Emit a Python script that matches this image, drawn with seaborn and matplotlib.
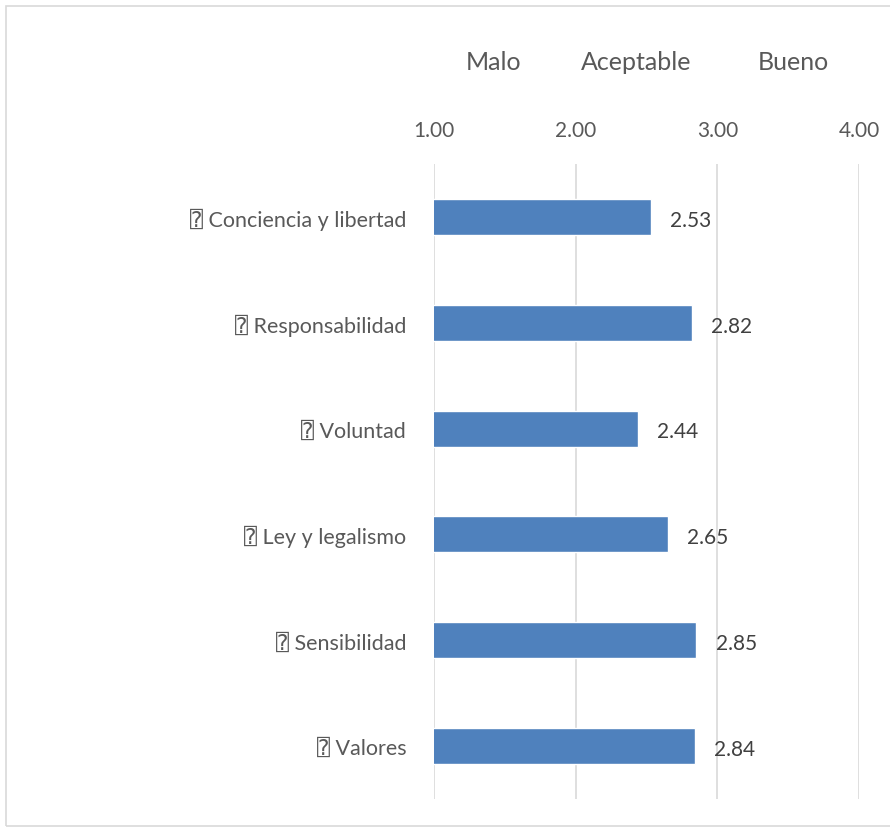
import matplotlib
matplotlib.use("Agg")
import matplotlib.pyplot as plt
import seaborn as sns
import pandas as pd
from matplotlib.patches import Rectangle

categories = ["⍰ Conciencia y libertad", "⍰ Responsabilidad", "⍰ Voluntad",
              "⍰ Ley y legalismo", "⍰ Sensibilidad", "⍰ Valores"]
values = [2.53, 2.82, 2.44, 2.65, 2.85, 2.84]
xticks = [1.0, 2.0, 3.0, 4.0]
xtick_labels = ["1.00", "2.00", "3.00", "4.00"]
bands = ["Malo", "Aceptable", "Bueno"]
band_pos = [1.42, 2.43, 3.54]

sns.set_theme(style="white")
plt.rcParams['font.family'] = ['Lato', 'DejaVu Sans', 'DejaVu Sans Mono',
                               'Noto Sans', 'Noto Sans CJK JP']

df = pd.DataFrame({"cat": categories, "val": values})

fig = plt.figure(figsize=(8.9, 8.28), dpi=100)
ax = fig.add_axes([434/890, 1-800/828, (859-434)/890, (800-165)/828])

sns.barplot(data=df, y="cat", x="val", orient="h", color="#4F81BD",
            width=0.34, ax=ax, saturation=1)

ax.set_xlim(1, 4)
ax.set_xticks(xticks)
ax.set_xticklabels(xtick_labels)
ax.xaxis.tick_top()
ax.tick_params(axis="x", length=0, pad=17, labelsize=15, labelcolor="#595959")
ax.tick_params(axis="y", length=0, pad=20, labelsize=15.5, labelcolor="#595959")
ax.set_xlabel("")
ax.set_ylabel("")
for s in ax.spines.values():
    s.set_visible(False)
ax.grid(axis="x", color="#D9D9D9", linewidth=1.2)
ax.grid(axis="y", visible=False)
ax.set_axisbelow(True)

for i, v in enumerate(values):
    ax.annotate(f"{v:.2f}", xy=(v, i), xytext=(14, -2), textcoords="offset points",
                ha="left", va="center", fontsize=15, color="#404040")

for b, p in zip(bands, band_pos):
    ax.text(p, (800-63)/(800-165), b, transform=ax.get_xaxis_transform(),
            ha="center", va="center", fontsize=18, color="#595959")

fig.patches.append(Rectangle((6/890, 1-827/828), 900/890, (827-7)/828,
                             transform=fig.transFigure, fill=False,
                             edgecolor="#D9D9D9", linewidth=1.2))

fig.savefig("out.png", dpi=100)
